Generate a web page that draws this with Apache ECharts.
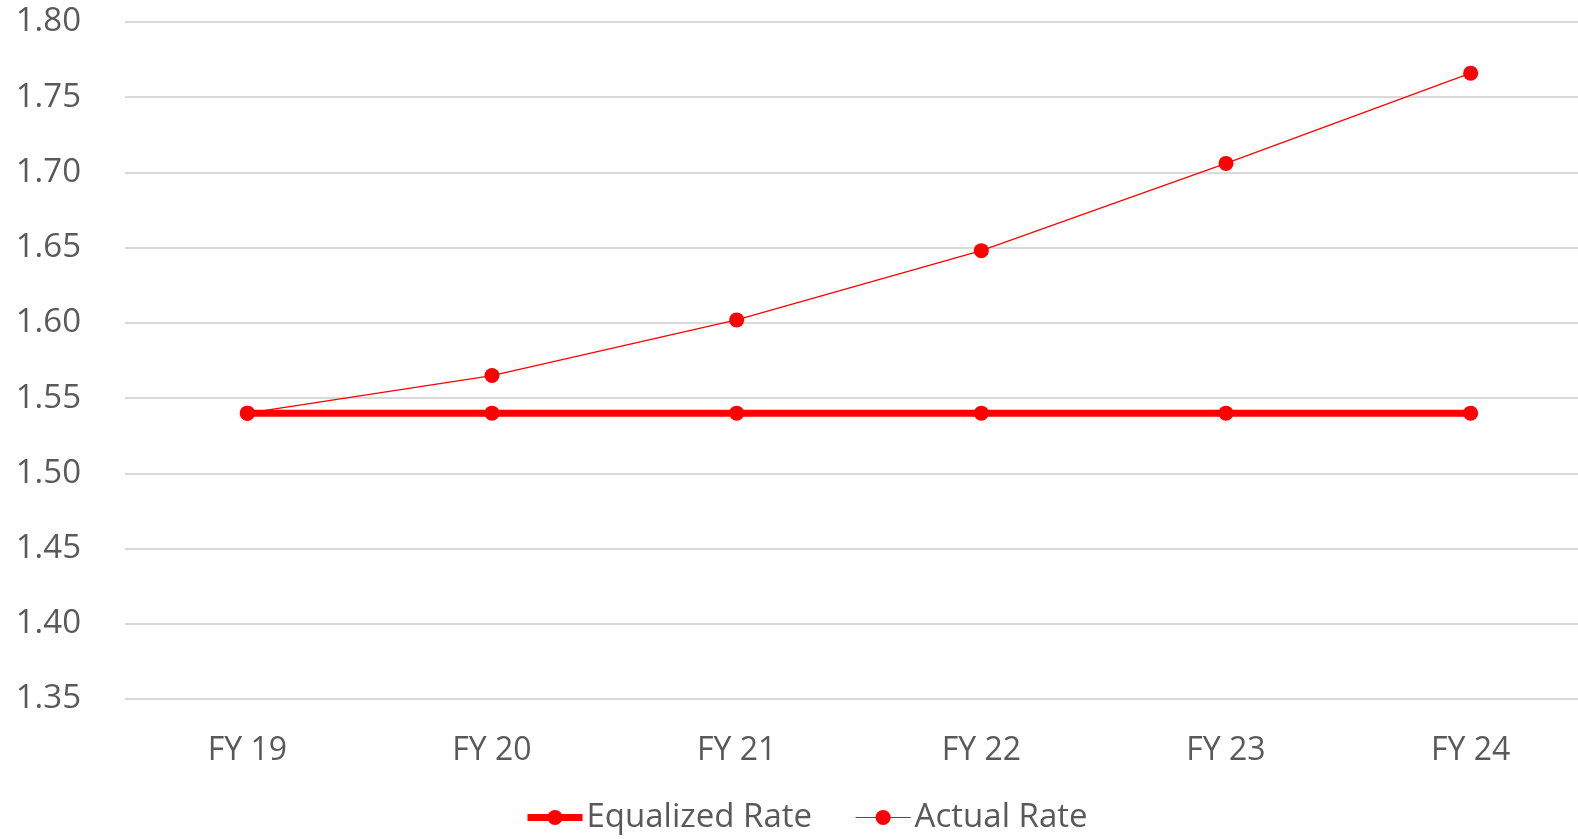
<!DOCTYPE html>
<html>
<head>
<meta charset="utf-8">
<script src="https://cdn.jsdelivr.net/npm/echarts@6/dist/echarts.min.js"></script>
<style>
  html, body { margin: 0; padding: 0; background: #fff; }
  #chart { width: 1578px; height: 839px; }
</style>
</head>
<body>
<div id="chart"></div>
<script>
// Fiscal years on the category axis
const categories = ['FY 19', 'FY 20', 'FY 21', 'FY 22', 'FY 23', 'FY 24'];
// Rate series
const equalizedRate = [1.54, 1.54, 1.54, 1.54, 1.54, 1.54];
const actualRate = [1.54, 1.565, 1.602, 1.648, 1.706, 1.766];
// Value axis range
const yMin = 1.35;
const yMax = 1.80;
const yStep = 0.05;

const textColor = '#595959';
const fontFamily = '"Open Sans", "Liberation Sans", sans-serif';

const chart = echarts.init(document.getElementById('chart'), null, { renderer: 'canvas' });
chart.setOption({
  animation: false,
  backgroundColor: '#ffffff',
  // plot area runs slightly past the right edge of the canvas
  grid: { left: 125, width: 1468, top: 22, height: 677, containLabel: false, outerBoundsMode: 'none' },
  legend: {
    top: 796,
    left: 519,
    itemWidth: 55,
    itemHeight: 19,
    itemGap: 43,
    textStyle: { color: textColor, fontSize: 33, fontFamily: fontFamily, padding: [0, 0, 0, -1] },
    data: [
      { name: 'Equalized Rate', lineStyle: { width: 7, color: '#ff0000' } },
      { name: 'Actual Rate', lineStyle: { width: 1.2, color: '#ff0000' } }
    ]
  },
  xAxis: {
    type: 'category',
    data: categories,
    boundaryGap: true,
    axisLine: { show: false },
    axisTick: { show: false },
    axisLabel: { color: textColor, fontSize: 32, fontFamily: fontFamily, margin: 36 }
  },
  yAxis: {
    type: 'value',
    min: yMin,
    max: yMax,
    interval: yStep,
    axisLine: { show: false },
    axisTick: { show: false },
    axisLabel: {
      color: textColor, fontSize: 33, fontFamily: fontFamily, margin: 44,
      formatter: v => v.toFixed(2)
    },
    splitLine: { lineStyle: { color: '#d9d9d9', width: 2 } }
  },
  series: [
    {
      name: 'Equalized Rate',
      type: 'line',
      data: equalizedRate,
      color: '#ff0000',
      lineStyle: { width: 7, color: '#ff0000' },
      itemStyle: { color: '#ff0000' },
      symbol: 'circle',
      symbolSize: 15,
      z: 3
    },
    {
      name: 'Actual Rate',
      type: 'line',
      data: actualRate,
      color: '#ff0000',
      lineStyle: { width: 1.2, color: '#ff0000' },
      itemStyle: { color: '#ff0000' },
      symbol: 'circle',
      symbolSize: 15,
      z: 4
    }
  ]
});
</script>
</body>
</html>
